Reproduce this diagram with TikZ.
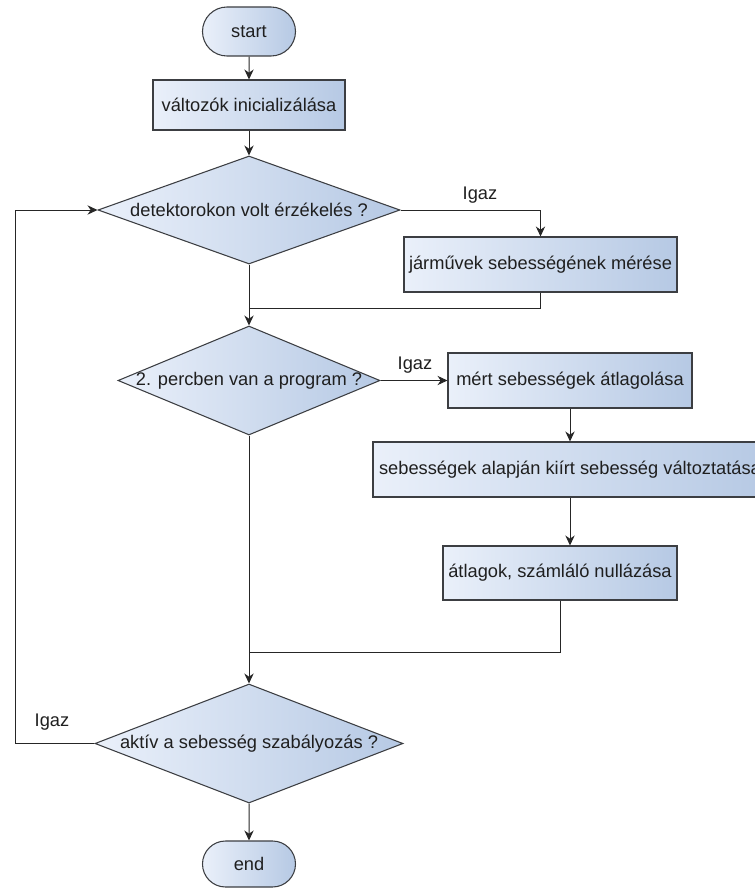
\documentclass[tikz,border=0pt]{standalone}
\usepackage{fontspec}
\setmainfont{Liberation Sans}
\usetikzlibrary{shapes.geometric,shapes.misc,arrows.meta}
\definecolor{fillL}{RGB}{234,240,250}
\definecolor{fillR}{RGB}{182,201,228}
\definecolor{strokec}{RGB}{60,62,66}
\tikzset{
  base/.style={draw=strokec, line width=0.8pt, left color=fillL, right color=fillR,
    font=\fontsize{13.7pt}{16pt}\selectfont, text=black!88, inner sep=0pt},
  procbox/.style={base, rectangle},
  term/.style={base, rounded rectangle},
  decision/.style={base, diamond},
  conn/.style={draw=black!85, line width=0.75pt},
  arr/.style={conn, -{Stealth[length=7.5pt,width=7pt]}},
  lbl/.style={font=\fontsize{13.7pt}{16pt}\selectfont, text=black!88, inner sep=0pt}
}
\begin{document}
\begin{tikzpicture}[x=0.75pt,y=-0.75pt]
\useasboundingbox (0,0) rectangle (755,888);
\clip (0,0) rectangle (755,888);
% nodes
\node[term, minimum width=93*0.75pt, minimum height=49*0.75pt] (start) at (249,31.5) {start};
\node[procbox, minimum width=192*0.75pt, minimum height=50*0.75pt] (b1) at (249,105) {változók inicializálása};
\node[decision, minimum width=302*0.75pt, minimum height=108*0.75pt] (d1) at (249,210) {\makebox[0pt]{detektorokon volt érzékelés ?}};
\node[procbox, minimum width=273*0.75pt, minimum height=55*0.75pt] (b2) at (540.5,264.5) {járművek sebességének mérése};
\node[decision, minimum width=262*0.75pt, minimum height=109*0.75pt] (d2) at (249,380.5) {\makebox[0pt]{2. percben van a program ?}};
\node[procbox, minimum width=244*0.75pt, minimum height=55*0.75pt] (b3) at (570,380.5) {mért sebességek átlagolása};
\node[procbox, minimum width=394*0.75pt, minimum height=55*0.75pt] (b4) at (570,469.5) {sebességek alapján kiírt sebesség változtatása};
\node[procbox, minimum width=234*0.75pt, minimum height=54*0.75pt] (b5) at (560,573) {átlagok, számláló nullázása};
\node[decision, minimum width=308*0.75pt, minimum height=119*0.75pt] (d3) at (249,743.5) {\makebox[0pt]{aktív a sebesség szabályozás ?}};
\node[term, minimum width=93*0.75pt, minimum height=46*0.75pt] (end) at (249,864) {end};
% labels
\node[lbl] (g1) at (480,195) {Igaz};
\node[lbl] (g2) at (415,365) {Igaz};
\node[lbl] (g3) at (52,722) {Igaz};
% coordinates
\coordinate (j1) at (249,308);
\coordinate (j2) at (249,652);
\coordinate (lp) at (15,744);
% connectors
\draw[arr] (start) -- (b1);
\draw[arr] (b1) -- (d1);
\draw[arr] (d1.east) -| (b2.north);
\draw[arr] (d1.south) -- (d2.north);
\draw[conn] (b2.south) |- (j1);
\draw[arr] (d2.east) -- (b3.west);
\draw[arr] (b3) -- (b4);
\draw[arr] (b4.south) -- (b4.south |- b5.north);
\draw[arr] (d2.south) -- (d3.north);
\draw[conn] (b5.south) |- (j2);
\draw[arr] (d3) -- (end);
\draw[arr] (d3.west) -- (d3.west -| lp) |- (d1.west);
\end{tikzpicture}
\end{document}
